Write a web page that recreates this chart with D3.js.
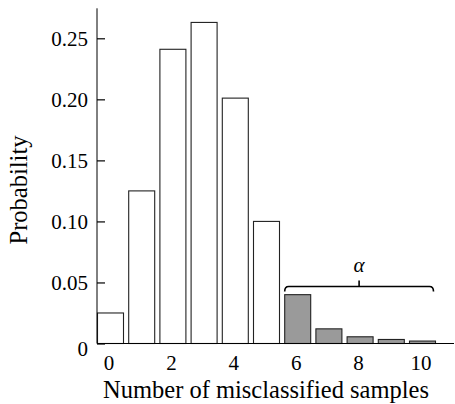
<!DOCTYPE html>
<html>
<head>
<meta charset="utf-8">
<script src="https://cdn.jsdelivr.net/npm/d3@7"></script>
<style>
    body { margin: 0; background: #fff; }
    text { font-family: "Liberation Serif", "Times New Roman", serif; fill: #000; }
</style>
</head>
<body>
<svg id="chart" width="455" height="404"></svg>
<script>
// number of misclassified samples and their probability
let counts = [0, 1, 2, 3, 4, 5, 6, 7, 8, 9, 10];
let probs = [0.025, 0.125, 0.241, 0.263, 0.201, 0.100, 0.040, 0.012, 0.0055, 0.0033, 0.002];
let yTicks = [0, 0.05, 0.10, 0.15, 0.20, 0.25];
let xTicks = [0, 2, 4, 6, 8, 10];
let alphaStart = 6; // tail that makes up alpha

let svg = d3.select("#chart");

let x = d3.scaleLinear().domain([0, 10]).range([110.5, 422.5]);
let barW = 26;
let y = d3.scaleLinear().domain([0, 0.25]).range([343.5, 38.3]);

// bars
svg.append("g")
    .selectAll("rect")
    .data(counts)
    .enter().append("rect")
    .attr("x", d => x(d) - barW / 2)
    .attr("width", barW)
    .attr("y", (d, i) => y(probs[i]))
    .attr("height", (d, i) => y(0) - y(probs[i]))
    .attr("fill", d => d >= alphaStart ? "#9a9a9a" : "#fff")
    .attr("stroke", "#222")
    .attr("stroke-width", 1.1);

// y axis, ticks pointing inward
let yAxis = svg.append("g")
    .attr("transform", "translate(97,0)")
    .call(d3.axisLeft(y)
        .tickValues(yTicks)
        .tickSizeInner(-8)
        .tickSizeOuter(0)
        .tickPadding(9)
        .tickFormat(d => d === 0 ? "0" : d3.format(".2f")(d)));
yAxis.attr("font-family", null);
yAxis.select(".domain").attr("d", "M0," + y(0) + "V8.3");
yAxis.selectAll("line").attr("stroke", "#000").attr("stroke-width", 1.2);
yAxis.selectAll("text").style("font-size", "21px");
yAxis.selectAll(".tick").filter(d => d === 0).select("text").attr("dy", "0.55em");

// x axis
let xAxis = svg.append("g")
    .attr("transform", "translate(0," + y(0) + ")")
    .call(d3.axisBottom(x)
        .tickValues(xTicks)
        .tickSize(0)
        .tickPadding(12));
xAxis.attr("font-family", null);
xAxis.select(".domain").attr("d", "M97,0H454").attr("stroke-width", 1.2);
xAxis.selectAll("text").style("font-size", "21px").attr("dx", -2);

// axis titles
svg.append("text")
    .attr("x", 266)
    .attr("y", 397.5)
    .attr("text-anchor", "middle")
    .style("font-size", "24.5px")
    .text("Number of misclassified samples");

svg.append("text")
    .attr("transform", "translate(27,190) rotate(-90)")
    .attr("text-anchor", "middle")
    .style("font-size", "24.5px")
    .text("Probability");

// brace over the tail
let bx0 = x(alphaStart) - barW / 2;
let bx1 = x(10) + barW / 2 - 2;
let by = 286.5;
let bmid = (bx0 + bx1) / 2;
svg.append("path")
    .attr("d", "M" + bx0 + "," + (by + 5) + "Q" + bx0 + "," + by + " " + (bx0 + 4) + "," + by
        + "H" + (bx1 - 4) + "Q" + bx1 + "," + by + " " + bx1 + "," + (by + 5)
        + "M" + bmid + "," + by + "V" + (by - 6))
    .attr("fill", "none")
    .attr("stroke", "#000")
    .attr("stroke-width", 1.6);

svg.append("text")
    .attr("x", bmid)
    .attr("y", 272)
    .attr("text-anchor", "middle")
    .style("font-size", "21px")
    .style("font-style", "italic")
    .text("α");
</script>
</body>
</html>
